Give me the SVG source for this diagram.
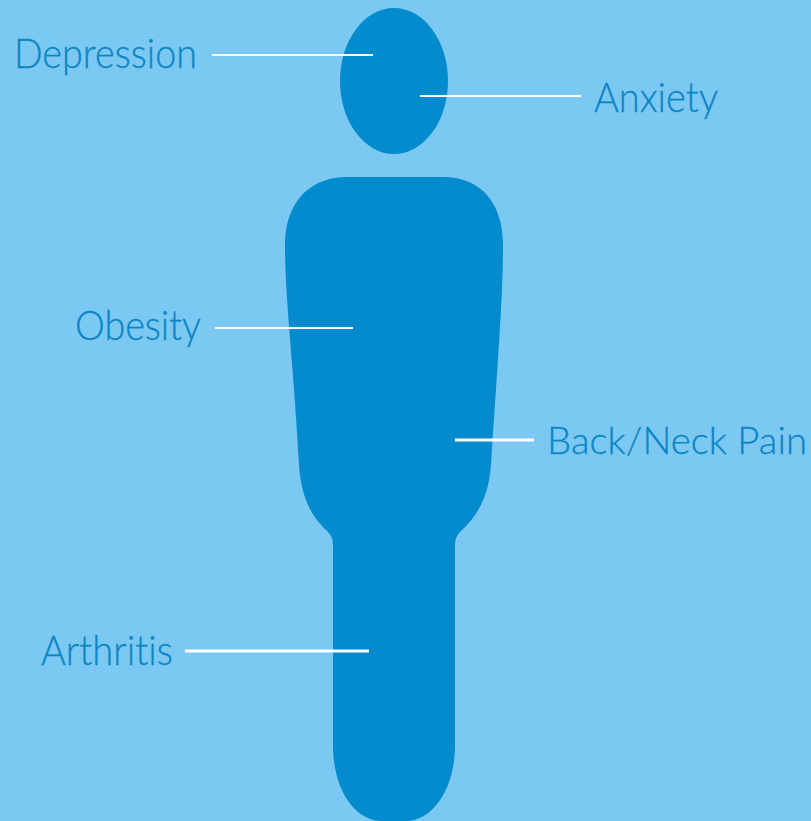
<svg xmlns="http://www.w3.org/2000/svg" width="811" height="821" viewBox="0 0 811 821">
<style>
.l{font-family:"Lato","Liberation Sans",sans-serif;font-size:41px;fill:#0a86c6;font-weight:300;font-variant-ligatures:none;stroke:#0a86c6;stroke-width:.3}
.c{stroke:#fff;stroke-width:2;fill:none}
.b{fill:#038bcd}
</style>
<rect width="811" height="821" fill="#7bc8f2"/>
<g id="figure">
<ellipse class="b" cx="394" cy="81" rx="54" ry="73"/>
<path class="b" d="M345 177H445C482 178 503 204 503 245C503 300 497 370 491 465C489 495 478 516 460 532Q455 537 455 545V745C455 790 432 821 406 821H382C355 821 333 790 333 745V545Q333 537 328 532C310 516 301 495 299 465C294 370 285 300 285 245C285 204 308 178 345 177Z"/>
</g>
<g id="connectors">
<path class="c" d="M212 55H373"/>
<path class="c" d="M420 96H581"/>
<path class="c" d="M215 328H353"/>
<path class="c" d="M455 440H534" style="stroke-width:3"/>
<path class="c" d="M185 651H369" style="stroke-width:3"/>
</g>
<g id="depression"><text class="l" x="14" y="68" textLength="183" lengthAdjust="spacingAndGlyphs">Depression</text></g>
<g id="anxiety"><text class="l" x="594" y="112" textLength="124" lengthAdjust="spacingAndGlyphs">Anxiety</text></g>
<g id="obesity"><text class="l" x="75" y="340" textLength="126" lengthAdjust="spacingAndGlyphs">Obesity</text></g>
<g id="backneck"><text class="l" x="547" y="454" textLength="260" lengthAdjust="spacingAndGlyphs" style="font-size:38px">Back/Neck Pain</text></g>
<g id="arthritis"><text class="l" x="41" y="665" textLength="132" lengthAdjust="spacingAndGlyphs">Arthritis</text></g>
</svg>
